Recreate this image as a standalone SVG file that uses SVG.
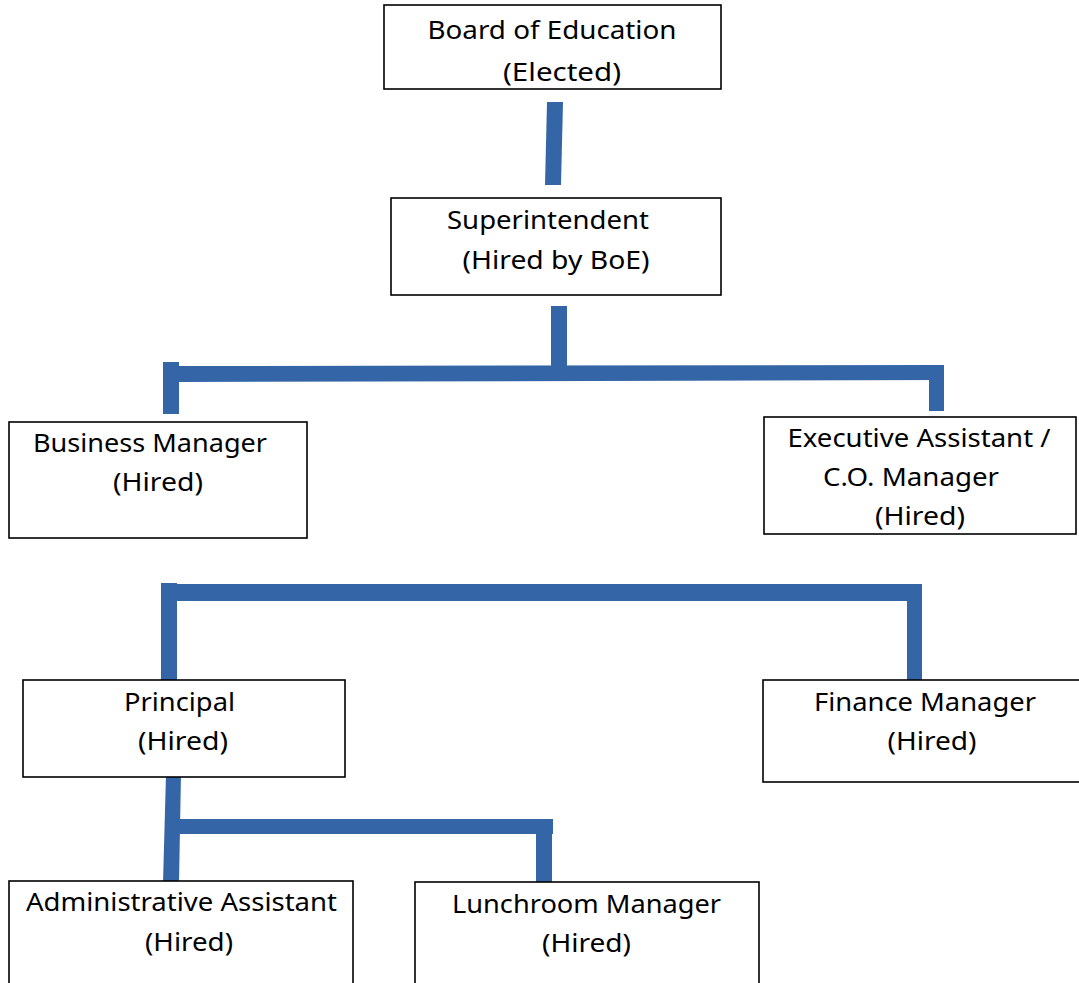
<svg xmlns="http://www.w3.org/2000/svg" width="1079" height="983" viewBox="0 0 1079 983">
<style>
.box{fill:#fff;stroke:#000;stroke-width:1.6}
.bar{fill:#3465a6;stroke:none}
text{font-family:"Noto Sans","Open Sans",sans-serif;font-size:26px;fill:#000;text-anchor:middle}
</style>
<rect width="1079" height="983" fill="#fff"/>
<g id="connectors">
<polygon class="bar" points="547,102 563,102 561,185 545,185"/>
<rect class="bar" x="551" y="306" width="16" height="62"/>
<rect class="bar" x="163" y="362" width="16" height="52"/>
<polygon class="bar" points="177,366 944,365 944,380 177,382"/>
<rect class="bar" x="929" y="365" width="15" height="46"/>
<rect class="bar" x="161" y="583" width="16" height="99"/>
<rect class="bar" x="175" y="584" width="747" height="17"/>
<rect class="bar" x="907" y="584" width="15" height="96"/>
<polygon class="bar" points="166,774 181,774 179,883 163,883"/>
<rect class="bar" x="179" y="819" width="374" height="15"/>
<rect class="bar" x="536" y="819" width="16" height="64"/>
</g>
<g id="board">
<rect class="box" x="384" y="5" width="337" height="84"/>
<text x="552" y="39" textLength="249" lengthAdjust="spacingAndGlyphs">Board of Education</text>
<text x="562" y="81" textLength="118" lengthAdjust="spacingAndGlyphs">(Elected)</text>
</g>
<g id="superintendent">
<rect class="box" x="391" y="198" width="330" height="97"/>
<text x="548" y="229" textLength="202" lengthAdjust="spacingAndGlyphs">Superintendent</text>
<text x="556" y="269" textLength="187" lengthAdjust="spacingAndGlyphs">(Hired by BoE)</text>
</g>
<g id="business-manager">
<rect class="box" x="9" y="422" width="298" height="116"/>
<text x="150" y="452" textLength="234" lengthAdjust="spacingAndGlyphs">Business Manager</text>
<text x="158" y="491" textLength="90" lengthAdjust="spacingAndGlyphs">(Hired)</text>
</g>
<g id="executive-assistant">
<rect class="box" x="764" y="417" width="312" height="117"/>
<text x="919" y="447" textLength="263" lengthAdjust="spacingAndGlyphs">Executive Assistant /</text>
<text x="911" y="486" textLength="176" lengthAdjust="spacingAndGlyphs">C.O. Manager</text>
<text x="920" y="525" textLength="90" lengthAdjust="spacingAndGlyphs">(Hired)</text>
</g>
<g id="principal">
<rect class="box" x="23" y="680" width="322" height="97"/>
<text x="179.5" y="711" textLength="111" lengthAdjust="spacingAndGlyphs">Principal</text>
<text x="183" y="750" textLength="90" lengthAdjust="spacingAndGlyphs">(Hired)</text>
</g>
<g id="finance-manager">
<rect class="box" x="763" y="680" width="320" height="102"/>
<text x="925" y="711" textLength="222" lengthAdjust="spacingAndGlyphs">Finance Manager</text>
<text x="932" y="750" textLength="89" lengthAdjust="spacingAndGlyphs">(Hired)</text>
</g>
<g id="administrative-assistant">
<rect class="box" x="9" y="881" width="344" height="110"/>
<text x="181.5" y="911" textLength="311" lengthAdjust="spacingAndGlyphs">Administrative Assistant</text>
<text x="189" y="951" textLength="88" lengthAdjust="spacingAndGlyphs">(Hired)</text>
</g>
<g id="lunchroom-manager">
<rect class="box" x="415" y="882" width="344" height="110"/>
<text x="586.5" y="913" textLength="269" lengthAdjust="spacingAndGlyphs">Lunchroom Manager</text>
<text x="586.5" y="952" textLength="89" lengthAdjust="spacingAndGlyphs">(Hired)</text>
</g>
</svg>
